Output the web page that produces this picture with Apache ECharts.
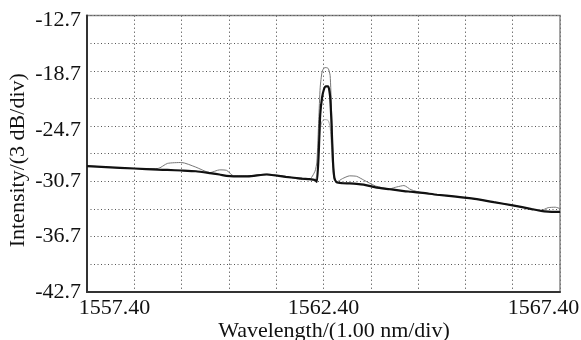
<!DOCTYPE html>
<html><head><meta charset="utf-8">
<script src="https://cdn.jsdelivr.net/npm/echarts@6/dist/echarts.min.js"></script>
<style>html,body{margin:0;padding:0;background:#fff}#c{width:581px;height:340px}</style>
</head><body><div id="c"></div>
<script>
// Wavelength samples (nm)
const wavelengths = [1557.40,1557.80,1558.40,1558.90,1559.10,1559.40,1559.70,1560.00,1560.20,1560.35,1560.50,1560.80,1561.20,1561.60,1561.95,1562.10,1562.22,1562.26,1562.30,1562.33,1562.37,1562.41,1562.45,1562.50,1562.54,1562.57,1562.60,1562.63,1562.68,1562.80,1562.95,1563.10,1563.25,1563.50,1563.80,1563.95,1564.10,1564.25,1564.50,1564.80,1565.20,1565.60,1566.00,1566.40,1566.80,1567.00,1567.15,1567.30,1567.40];
// Main trace (thick black)
const traceMain = [-29.05,-29.15,-29.30,-29.42,-29.46,-29.52,-29.60,-29.80,-29.95,-30.10,-30.15,-30.15,-29.95,-30.20,-30.40,-30.45,-30.55,-30.75,-27.50,-23.50,-21.60,-20.70,-20.40,-20.40,-21.50,-24.50,-28.50,-30.30,-30.80,-30.90,-30.92,-30.96,-31.05,-31.35,-31.55,-31.65,-31.75,-31.82,-31.95,-32.15,-32.35,-32.60,-32.95,-33.30,-33.70,-33.90,-33.98,-34.00,-34.00];
// Second trace (thin gray, higher peak)
const traceHigh = [-29.00,-29.15,-29.30,-29.30,-28.75,-28.65,-29.15,-29.75,-29.45,-29.50,-30.10,-30.10,-29.90,-30.15,-30.50,-30.50,-29.60,-28.60,-24.00,-20.50,-18.80,-18.40,-18.35,-18.45,-19.20,-23.00,-28.00,-30.40,-30.75,-30.40,-30.10,-30.15,-30.55,-31.20,-31.50,-31.30,-31.15,-31.60,-31.95,-32.15,-32.35,-32.60,-32.95,-33.30,-33.70,-33.85,-33.55,-33.50,-33.65];
// Third trace (light gray, lower peak)
const traceLow = [-29.05,-29.15,-29.30,-29.42,-29.46,-29.52,-29.60,-29.80,-29.95,-30.10,-30.15,-30.15,-29.95,-30.20,-30.40,-30.45,-30.50,-30.00,-27.00,-25.00,-24.20,-24.00,-24.00,-24.10,-24.80,-27.00,-29.50,-30.60,-30.80,-30.90,-30.92,-30.96,-31.05,-31.35,-31.55,-31.65,-31.75,-31.82,-31.95,-32.15,-32.35,-32.60,-32.95,-33.30,-33.70,-33.90,-33.98,-34.00,-34.00];
// Axis settings
const xMin = 1557.40, xMax = 1567.40, xStep = 1.00;
const yMin = -42.7, yMax = -12.7, yStep = 3;

const pair = (arr) => wavelengths.map((w, i) => [w, arr[i]]);
const FONT = 'Liberation Serif, Times New Roman, serif';
const FS = 22;
const T = {fontFamily: FONT, fontSize: FS, color: '#111'};

const chart = echarts.init(document.getElementById('c'), null, {renderer: 'canvas'});
chart.setOption({
  animation: false,
  backgroundColor: '#fff',
  grid: {left: 87, right: 21, top: 15.5, bottom: 48, containLabel: false, outerBoundsMode: 'none', show: true, borderColor: '#888', borderWidth: 1.5},
  xAxis: {
    type: 'value', min: xMin, max: xMax, interval: xStep,
    name: 'Wavelength/(1.00 nm/div)', nameLocation: 'middle', nameGap: 28, nameMoveOverlap: false,
    nameTextStyle: Object.assign({}, T, {padding: [0, 0, 0, 21]}),
    axisLine: {show: true, onZero: false, lineStyle: {color: '#333', width: 2}},
    axisTick: {show: false},
    splitLine: {show: true, lineStyle: {color: '#777', type: [1.5, 2.5], width: 1}},
    axisLabel: Object.assign({}, T, {
      margin: 5,
      showMinLabel: true, showMaxLabel: true,
      formatter: (v) => {
        const k = Math.round((v - xMin) / xStep);
        if (k === 0) return '{l|' + v.toFixed(2) + '}';
        if (k === 10) return '{r|' + v.toFixed(2) + '}';
        if (k === 5) return v.toFixed(2);
        return '';
      },
      rich: {
        l: Object.assign({}, T, {padding: [0, 0, 0, 55]}),
        r: Object.assign({}, T, {padding: [0, 33, 0, 0]})
      }
    })
  },
  yAxis: {
    type: 'value', min: yMin, max: yMax, interval: yStep,
    name: 'Intensity/(3 dB/div)', nameLocation: 'middle', nameGap: 58, nameMoveOverlap: false,
    nameTextStyle: Object.assign({}, T, {padding: [0, 13, 0, 0]}),
    axisLine: {show: true, lineStyle: {color: '#333', width: 2}},
    axisTick: {show: false},
    splitLine: {show: true, lineStyle: {color: '#555', type: [1, 2.5], width: 1}},
    axisLabel: Object.assign({}, T, {
      margin: 6,
      showMinLabel: true, showMaxLabel: true,
      formatter: (v) => {
        const k = Math.round((v - yMin) / yStep);
        if (k % 2 !== 0) return '';
        const s = v.toFixed(1);
        if (k === 10) return '{a|' + s + '}';
        if (k === 8) return '{b|' + s + '}';
        if (k === 6) return '{c|' + s + '}';
        return s;
      },
      rich: {
        a: Object.assign({}, T, {padding: [10, 0, 0, 0]}),
        b: Object.assign({}, T, {padding: [6, 0, 0, 0]}),
        c: Object.assign({}, T, {padding: [9, 0, 0, 0]})
      }
    })
  },
  series: [
    {type: 'line', data: pair(traceLow), showSymbol: false, smooth: 0.2, lineStyle: {color: '#aaa', width: 1}, z: 2},
    {type: 'line', data: pair(traceHigh), showSymbol: false, smooth: 0.2, lineStyle: {color: '#777', width: 1}, z: 3},
    {type: 'line', data: pair(traceMain), showSymbol: false, smooth: 0.2, lineStyle: {color: '#111', width: 2.2}, z: 4}
  ]
});
</script>
</body></html>
